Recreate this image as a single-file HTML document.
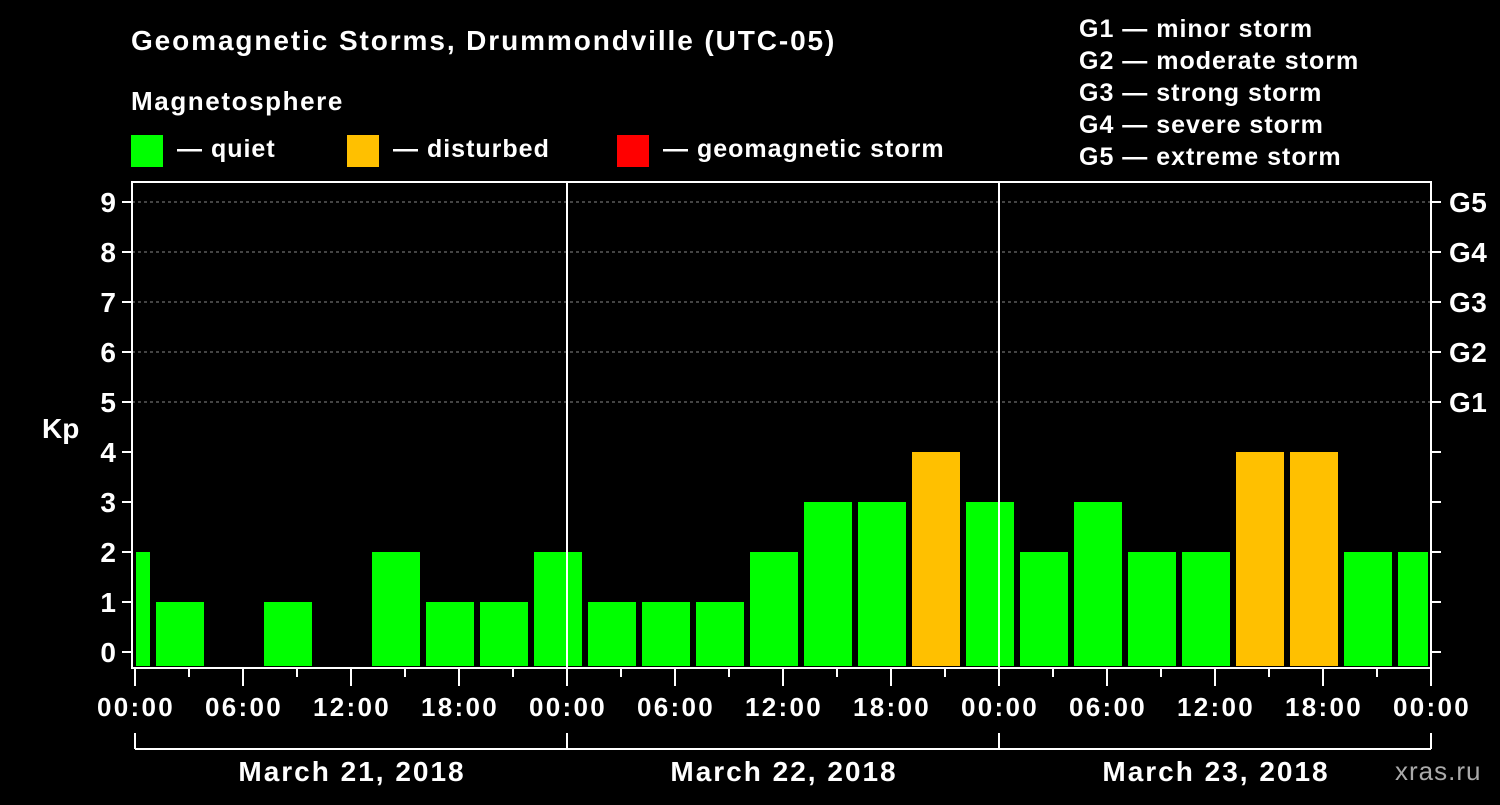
<!DOCTYPE html>
<html><head><meta charset="utf-8"><style>
body{margin:0;background:#000;}
svg text{font-family:"Liberation Sans",Arial,sans-serif;font-weight:bold;fill:#fff;}
</style></head><body>
<svg width="1500" height="800" viewBox="0 0 1500 800" xmlns="http://www.w3.org/2000/svg">
<rect width="1500" height="800" fill="#000"/>
<text x="131" y="50" font-size="28" letter-spacing="1.9">Geomagnetic Storms, Drummondville (UTC-05)</text>
<text x="131" y="110" font-size="26" letter-spacing="1.6">Magnetosphere</text>
<g><rect x="131" y="135" width="32" height="32" fill="#00ff00"/><text x="177" y="157" font-size="25" letter-spacing="1">— quiet</text></g>
<g><rect x="347" y="135" width="32" height="32" fill="#ffc000"/><text x="393" y="157" font-size="25" letter-spacing="1">— disturbed</text></g>
<g><rect x="617" y="135" width="32" height="32" fill="#ff0000"/><text x="663" y="157" font-size="25" letter-spacing="1">— geomagnetic storm</text></g>
<g font-size="25" letter-spacing="1">
<text x="1079" y="37">G1 — minor storm</text>
<text x="1079" y="69">G2 — moderate storm</text>
<text x="1079" y="101">G3 — strong storm</text>
<text x="1079" y="133">G4 — severe storm</text>
<text x="1079" y="165">G5 — extreme storm</text>
</g>
<text x="42" y="438" font-size="28">Kp</text>
<text x="1395" y="780" font-size="26" letter-spacing="1" style="fill:#aaa;font-weight:normal">xras.ru</text>
<g id="grid"></g>
<g id="bars"></g>
<g id="axes"></g>
</svg>
<script>
const kpValues=[2,1,0,1,0,2,1,1,2,1,1,1,2,3,3,4,3,2,3,2,2,4,4,2,2];
const yTicks=[0,1,2,3,4,5,6,7,8,9];
const gLabels=["G1","G2","G3","G4","G5"];
const xLabels=["00:00","06:00","12:00","18:00","00:00","06:00","12:00","18:00","00:00","06:00","12:00","18:00","00:00"];
const dayLabels=["March 21, 2018","March 22, 2018","March 23, 2018"];
const NS="http://www.w3.org/2000/svg";
const X0=135,PX_H=18,L=132,R=1431,T=182,B=668;
const xh=h=>X0+h*PX_H;
const yv=v=>652-v*50;
function mk(tag,attrs,parent,txt){const e=document.createElementNS(NS,tag);for(const k in attrs)e.setAttribute(k,attrs[k]);if(txt!==undefined)e.textContent=txt;document.getElementById(parent).appendChild(e);return e;}
const col=v=>v>=5?"#ff0000":(v>=4?"#ffc000":"#00ff00");
for(let v=5;v<=9;v++){const g=mk("line",{x1:L,x2:R,y1:yv(v),y2:yv(v),stroke:"#888","stroke-dasharray":"3,3"},"grid");

}
kpValues.forEach((v,i)=>{if(v<=0)return;const hs=-2+3*i;let x1=Math.max(xh(hs)+3,L+4);let x2=Math.min(xh(hs+3)-3,R-3);
const r=mk("rect",{x:x1,y:yv(v),width:x2-x1,height:B-yv(v)-2,fill:col(v)},"bars");

});
const f=mk("rect",{x:L,y:T,width:R-L,height:B-T,fill:"none",stroke:"#fff","stroke-width":2},"axes");


[xh(24),xh(48)].forEach(x=>{const s=mk("line",{x1:x,x2:x,y1:T,y2:B,stroke:"#fff","stroke-width":2},"axes");

});
yTicks.forEach(v=>{const y=yv(v);
mk("line",{x1:122,x2:L,y1:y,y2:y,stroke:"#fff","stroke-width":2},"axes");
mk("line",{x1:R,x2:1441,y1:y,y2:y,stroke:"#fff","stroke-width":2},"axes");
const t=mk("text",{x:116,y:y+10,"font-size":28,"text-anchor":"end"},"axes",String(v));

});
gLabels.forEach((g,i)=>{const t=mk("text",{x:1449,y:yv(5+i)+10,"font-size":28,"letter-spacing":0.5},"axes",g);

});
for(let h=0;h<=72;h+=3){const x=xh(h);mk("line",{x1:x,x2:x,y1:B,y2:h%6==0?686:677,stroke:"#fff","stroke-width":2},"axes");}
xLabels.forEach((s,i)=>{const t=mk("text",{x:xh(i*6)+1,y:716,"font-size":26,"letter-spacing":2.3,"text-anchor":"middle"},"axes",s);

});
mk("line",{x1:xh(0),x2:xh(72),y1:749,y2:749,stroke:"#fff","stroke-width":2},"axes");
for(let d=0;d<=3;d++)mk("line",{x1:xh(d*24),x2:xh(d*24),y1:733,y2:749,stroke:"#fff","stroke-width":2},"axes");
dayLabels.forEach((s,i)=>{const t=mk("text",{x:xh(i*24+12)+1,y:781,"font-size":28,"letter-spacing":2,"text-anchor":"middle"},"axes",s);

});
</script>
</body></html>
